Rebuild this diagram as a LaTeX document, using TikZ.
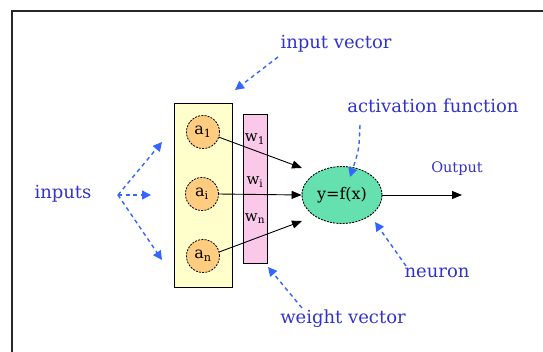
\documentclass[tikz,border=0pt]{standalone}
\usepackage{fontspec}
\setmainfont{DejaVu Serif}
\usetikzlibrary{arrows.meta,shapes.geometric}
\definecolor{lblue}{RGB}{50,50,205}
\definecolor{abl}{RGB}{51,102,255}
\definecolor{boxyel}{RGB}{255,255,204}
\definecolor{boxpink}{RGB}{250,200,232}
\definecolor{circor}{RGB}{255,204,128}
\definecolor{neugreen}{RGB}{100,225,175}
\begin{document}
\begin{tikzpicture}[x=1pt,y=-1pt,
  lbl/.style={text=lblue, font=\fontsize{18}{20}\selectfont, inner sep=0pt},
  ptr/.style={draw=abl, line width=1.4pt, dash pattern=on 4pt off 3.5pt,
    -{Triangle[length=9pt,width=9pt]}},
  sig/.style={draw=black, line width=0.9pt, -{Triangle[length=10pt,width=8pt]}},
  vecbox/.style={draw=black, line width=0.9pt, minimum width=58pt, minimum height=184pt, inner sep=0pt},
  wbox/.style={draw=black, line width=0.9pt, minimum width=24pt, minimum height=149pt, inner sep=0pt},
  unit/.style={circle, draw=black, line width=0.8pt, dash pattern=on 2pt off 1.2pt,
    fill=circor, minimum size=33pt, inner sep=0pt, font=\fontsize{16}{17}\selectfont},
  wlbl/.style={inner sep=0pt, font=\fontsize{15}{16}\selectfont},
  neu/.style={ellipse, draw=black, line width=0.9pt, dash pattern=on 2pt off 1.2pt,
    fill=neugreen, minimum width=80pt, minimum height=57pt, inner sep=0pt,
    font=\fontsize{16}{17}\selectfont}
]
\useasboundingbox (0,0) rectangle (543,351);
\draw[line width=1.6pt, black!85] (12,352) -- (12,11) -- (544,11);

% boxes
\node[vecbox, fill=boxyel] (inbox) at (203,195) {};
\node[wbox, fill=boxpink] (wbox) at (255,188.5) {};

% input units
\node[unit] (a1) at (203,132) {a\textsubscript{1}};
\node[unit] (ai) at (202,194) {a\textsubscript{i}};
\node[unit] (an) at (203,256) {a\textsubscript{n}};

% weights
\node[wlbl] (w1) at (255,139) {w\textsubscript{1}};
\node[wlbl] (wi) at (255,182) {w\textsubscript{i}};
\node[wlbl] (wn) at (255,219) {w\textsubscript{n}};

% neuron
\node[neu] (neuron) at (342,195) {y=f(x)};

% signal arrows
\coordinate (t1) at (302,168);
\coordinate (t3) at (302,221);
\coordinate (out) at (462,195);
\draw[sig] (a1.-18) -- (t1);
\draw[sig] (ai.east) -- (neuron.west);
\draw[sig] (an.14) -- (t3);
\draw[sig] (neuron.east) -- (out);

% labels
\node[lbl] (tiv) at (336,44) {input vector};
\node[lbl] (tact) at (433,106) {activation function};
\node[lbl] (tin) at (63,194) {inputs};
\node[lbl] (tneu) at (437,273) {neuron};
\node[lbl] (twv) at (343,319) {weight vector};
\node[text=lblue, inner sep=0pt, font=\fontsize{14.5}{16}\selectfont] (tout) at (457,169) {Output};

% pointer arrows
\coordinate (ivs) at (278,57);
\coordinate (ive) at (235,90);
\draw[ptr] (ivs) -- (ive);

\coordinate (acs) at (360,125);
\coordinate (ace) at (350,177);
\draw[ptr] (acs) .. controls (359,150) .. (ace);

\coordinate (nes) at (406,266);
\coordinate (nee) at (375,222);
\draw[ptr] (nes) -- (nee);

\coordinate (wvs) at (302,308);
\coordinate (wve) at (268,267);
\draw[ptr] (wvs) -- (wve);

\coordinate (ins) at (118,195);
\coordinate (ie1) at (162,142);
\coordinate (ie2) at (151,195);
\coordinate (ie3) at (162,260);
\draw[ptr] (ins) -- (ie1);
\draw[ptr] (ins) -- (ie2);
\draw[ptr] (ins) -- (ie3);
\end{tikzpicture}
\end{document}
